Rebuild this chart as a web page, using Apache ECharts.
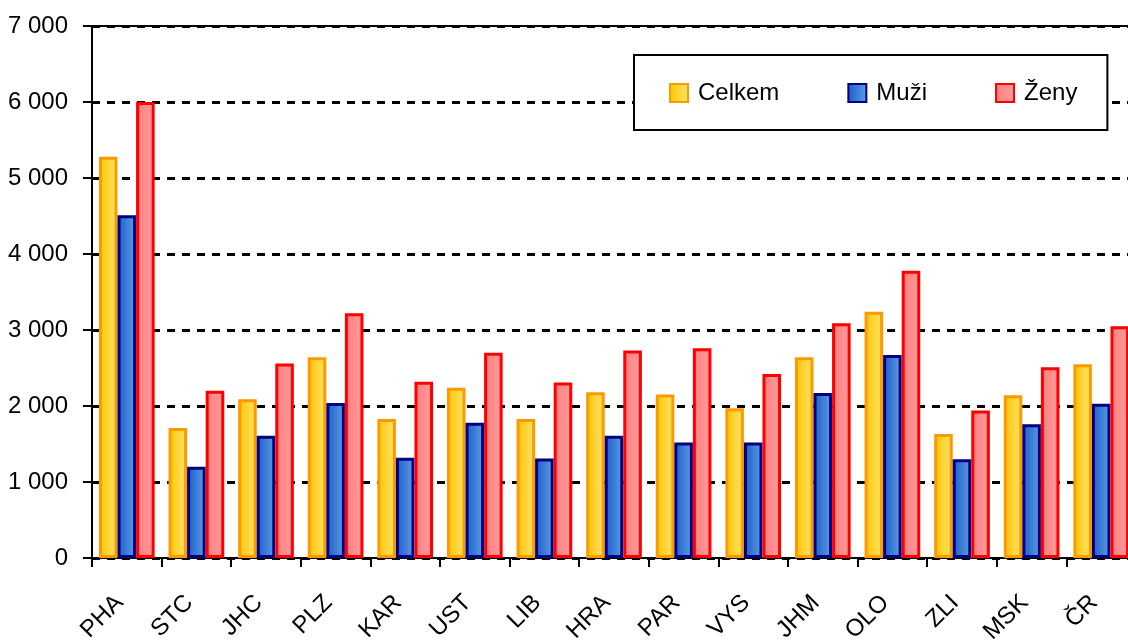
<!DOCTYPE html>
<html>
<head>
<meta charset="utf-8">
<script src="https://cdn.jsdelivr.net/npm/echarts@6/dist/echarts.min.js"></script>
<style>
  html, body { margin: 0; padding: 0; background: #fff; }
  #chart { width: 1128px; height: 641px; }
</style>
</head>
<body>
<div id="chart"></div>
<script>
// kraje
const regions = ['PHA', 'STC', 'JHC', 'PLZ', 'KAR', 'UST', 'LIB', 'HRA', 'PAR', 'VYS', 'JHM', 'OLO', 'ZLI', 'MSK', 'ČR']
// hodnoty
const celkem = [5280, 1710, 2090, 2640, 1830, 2240, 1830, 2180, 2150, 1970, 2640, 3240, 1630, 2140, 2550]
const muzi = [4510, 1200, 1610, 2040, 1320, 1780, 1310, 1610, 1520, 1520, 2170, 2670, 1300, 1760, 2030]
const zeny = [6000, 2200, 2560, 3220, 2320, 2700, 2310, 2730, 2760, 2420, 3090, 3780, 1940, 2510, 3050]
const yTicks = [0, 1000, 2000, 3000, 4000, 5000, 6000, 7000]

const font = "'Liberation Sans', Arial, sans-serif"

// vodorovný přechod pro sloupce
function grad(from, to) {
  return new echarts.graphic.LinearGradient(0, 0, 1, 0, [
    { offset: 0, color: from },
    { offset: 1, color: to },
  ])
}

function fmt(v) {
  return String(v).replace(/\B(?=(\d{3})+(?!\d))/g, ' ')
}

const myChart = echarts.init(document.getElementById('chart'), null, { renderer: 'canvas' })

const option = {
  animation: false,
  backgroundColor: '#fff',
  textStyle: { fontFamily: font },
  grid: { left: 92, right: -8, top: 26, bottom: 83, outerBoundsMode: 'none', containLabel: false },
  legend: {
    left: 634,
    top: 55,
    orient: 'horizontal',
    borderColor: '#000',
    borderWidth: 2,
    backgroundColor: '#fff',
    padding: [26, 30, 25, 35],
    itemWidth: 18,
    itemHeight: 18,
    itemGap: 68,
    icon: 'rect',
    textStyle: { fontFamily: font, fontSize: 24, color: '#000', padding: [2, 0, 0, 5] },
    data: ['Celkem', 'Muži', 'Ženy'],
  },
  xAxis: [
    {
      type: 'category',
      data: regions,
      axisLine: { lineStyle: { color: '#000', width: 2 } },
      axisTick: { show: true, length: 9, lineStyle: { color: '#000', width: 2 } },
      axisLabel: {
        rotate: 45,
        margin: 34,
        padding: [0, 10, 0, 0],
        fontFamily: font,
        fontSize: 24,
        color: '#000',
        interval: 0,
      },
      splitLine: { show: false },
    },
    {
      // horní okraj plochy grafu
      type: 'category',
      position: 'top',
      data: regions,
      axisLine: { show: true, lineStyle: { color: '#000', width: 2 } },
      axisTick: { show: false },
      axisLabel: { show: false },
    },
  ],
  yAxis: {
    type: 'value',
    min: yTicks[0],
    max: yTicks[yTicks.length - 1],
    interval: 1000,
    axisLine: { show: true, lineStyle: { color: '#000', width: 2 } },
    axisTick: { show: true, length: 9, lineStyle: { color: '#000', width: 2 } },
    axisLabel: {
      margin: 24,
      fontFamily: font,
      fontSize: 24,
      color: '#000',
      formatter: fmt,
    },
    splitLine: {
      show: true,
      lineStyle: { color: '#000', width: 3, type: [8, 7] },
    },
  },
  series: [
    {
      name: 'Celkem',
      type: 'bar',
      data: celkem,
      barGap: '0%',
      barCategoryGap: '20%',
      itemStyle: { color: grad('#FFC400', '#FFE46E'), borderColor: '#FF9900', borderWidth: 3 },
    },
    {
      name: 'Muži',
      type: 'bar',
      data: muzi,
      barGap: '0%',
      barCategoryGap: '20%',
      itemStyle: { color: grad('#1A5CCB', '#5E9EE3'), borderColor: '#000080', borderWidth: 3 },
    },
    {
      name: 'Ženy',
      type: 'bar',
      data: zeny,
      barGap: '0%',
      barCategoryGap: '20%',
      itemStyle: { color: grad('#FF7E7E', '#FF9C9C'), borderColor: '#FF0000', borderWidth: 3 },
    },
  ],
}

myChart.setOption(option)
</script>
</body>
</html>
